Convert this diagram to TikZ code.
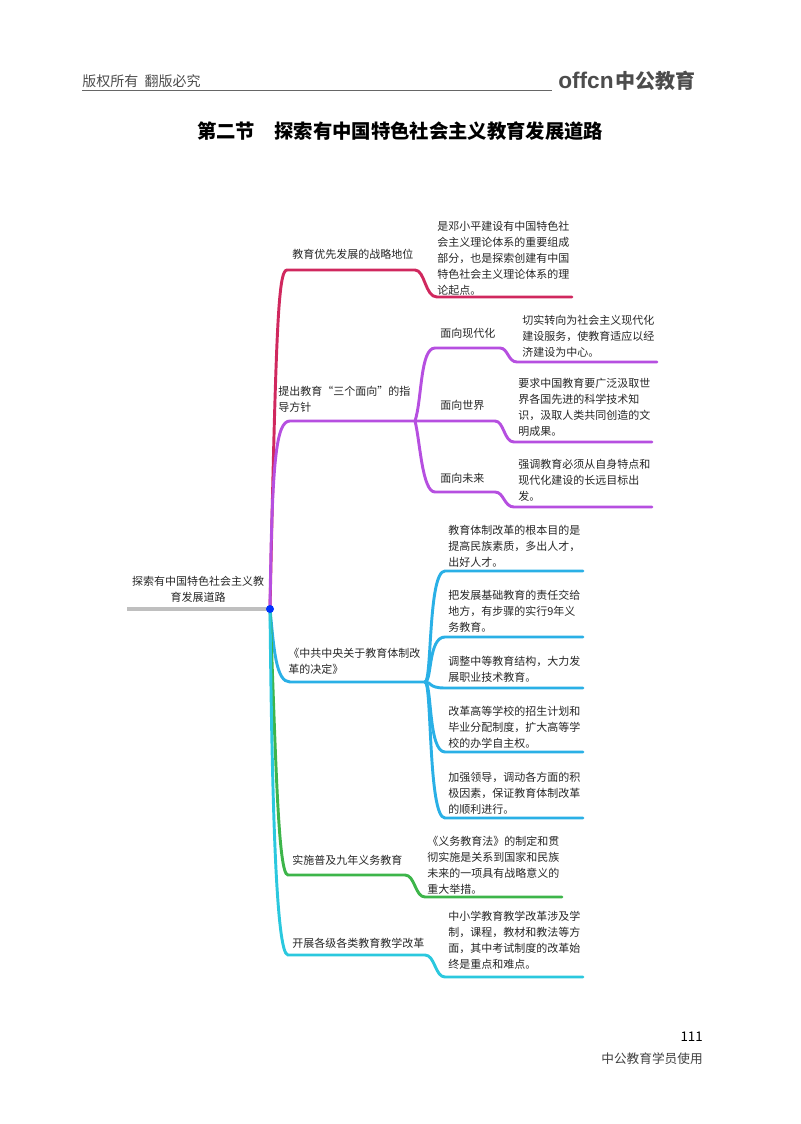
\documentclass[tikz,border=0pt]{standalone}
\usepackage{fontspec}
\setmainfont{Noto Sans CJK SC}
\newfontfamily\logofont{Liberation Sans}
\begin{document}
\begin{tikzpicture}[x=0.75pt,y=-0.75pt,
  txt/.style={anchor=north west,inner sep=0pt,align=left,font=\fontsize{8.25}{12}\selectfont,text=black!85},
  br/.style={line width=2.2pt,line cap=round}]
\useasboundingbox (0,0) rectangle (800,1124);
\definecolor{cred}{HTML}{D0285E}
\definecolor{cpur}{HTML}{B64FE0}
\definecolor{cblu}{HTML}{2AB0E6}
\definecolor{cgrn}{HTML}{3DB54A}
\definecolor{ccya}{HTML}{2BC8DE}
% header
\node[anchor=south west,inner sep=0pt,font=\fontsize{10.5}{12}\selectfont,text=black!70] (hdr) at (82,88) {版权所有\ \ 翻版必究};
\coordinate (hl1) at (82,90); \coordinate (hl2) at (552,90);
\draw[black!60,line width=0.6pt] (hl1) -- (hl2);
\node[anchor=south west,inner sep=0pt,text=black!70] (logo) at (558,91) {{\logofont\bfseries\fontsize{17}{18}\selectfont offcn}\,{\bfseries\fontsize{15}{18}\selectfont 中公教育}};
\node[inner sep=0pt,font=\bfseries\fontsize{14.5}{16}\selectfont] (title) at (400,131) {第二节\quad 探索有中国特色社会主义教育发展道路};
% root
\coordinate (r0) at (127,609);
\coordinate (dc) at (270,609);
\draw[line width=2.5pt,black!25] (r0) -- (dc);
\node[txt,align=center,anchor=south] (root) at (198,603) {探索有中国特色社会主义教\\育发展道路};
% branch 1
\coordinate (a1) at (287,270); \coordinate (a2) at (415,270); \coordinate (a3) at (437,297); \coordinate (a4) at (572,297);
\draw[br,cred] (dc) .. controls (276,330) and (278,270) .. (a1) -- (a2) .. controls (425,270) and (425,297) .. (a3) -- (a4);
\node[txt] (l1) at (292,249) {教育优先发展的战略地位};
\node[txt] (d1) at (437,221) {是邓小平建设有中国特色社\\会主义理论体系的重要组成\\部分，也是探索创建有中国\\特色社会主义理论体系的理\\论起点。};
% branch 2
\coordinate (b1) at (290,421); \coordinate (bf) at (415,421);
\draw[br,cpur] (dc) .. controls (272,460) and (276,421) .. (b1) -- (bf);
\node[txt] (l2) at (278,386) {提出教育“三个面向”的指\\导方针};
\coordinate (p1) at (435,348); \coordinate (p2) at (500,348); \coordinate (p3) at (517,362); \coordinate (p4) at (657,362);
\draw[br,cpur] (bf) .. controls (422,400) and (420,348) .. (p1) -- (p2) .. controls (508,348) and (508,362) .. (p3) -- (p4);
\node[txt] (s1) at (440,328) {面向现代化};
\node[txt] (t1) at (522,315) {切实转向为社会主义现代化\\建设服务，使教育适应以经\\济建设为中心。};
\coordinate (q2) at (495,421); \coordinate (q3) at (514,442); \coordinate (q4) at (652,442);
\draw[br,cpur] (bf) -- (q2) .. controls (504,421) and (504,442) .. (q3) -- (q4);
\node[txt] (s2) at (440,400) {面向世界};
\node[txt] (t2) at (518,378) {要求中国教育要广泛汲取世\\界各国先进的科学技术知\\识，汲取人类共同创造的文\\明成果。};
\coordinate (u1) at (435,492); \coordinate (u2) at (495,492); \coordinate (u3) at (514,507); \coordinate (u4) at (652,507);
\draw[br,cpur] (bf) .. controls (420,440) and (422,492) .. (u1) -- (u2) .. controls (504,492) and (504,507) .. (u3) -- (u4);
\node[txt] (s3) at (440,473) {面向未来};
\node[txt] (t3) at (518,459) {强调教育必须从自身特点和\\现代化建设的长远目标出\\发。};
% branch 3
\coordinate (c1) at (290,682); \coordinate (cf) at (425,682);
\draw[br,cblu] (dc) .. controls (274,650) and (276,682) .. (c1) -- (cf);
\node[txt] (l3) at (288,648) {《中共中央关于教育体制改\\革的决定》};
\foreach \y/\n in {571/1,637/2,688/3,752/4,818/5}{
  \coordinate (e\n) at (445,\y); \coordinate (f\n) at (583,\y);
  \draw[br,cblu] (cf) .. controls (432,682) and (428,\y) .. (e\n) -- (f\n);
}
\node[txt] (k1) at (448,525) {教育体制改革的根本目的是\\提高民族素质，多出人才，\\出好人才。};
\node[txt] (k2) at (448,590) {把发展基础教育的责任交给\\地方，有步骤的实行9年义\\务教育。};
\node[txt] (k3) at (448,656) {调整中等教育结构，大力发\\展职业技术教育。};
\node[txt] (k4) at (448,706) {改革高等学校的招生计划和\\毕业分配制度，扩大高等学\\校的办学自主权。};
\node[txt] (k5) at (448,772) {加强领导，调动各方面的积\\极因素，保证教育体制改革\\的顺利进行。};
% branch 4
\coordinate (g1) at (288,875); \coordinate (g2) at (405,875); \coordinate (g3) at (425,897); \coordinate (g4) at (562,897);
\draw[br,cgrn] (dc) .. controls (276,760) and (278,875) .. (g1) -- (g2) .. controls (415,875) and (415,897) .. (g3) -- (g4);
\node[txt] (l4) at (292,855) {实施普及九年义务教育};
\node[txt] (d4) at (427,836) {《义务教育法》的制定和贯\\彻实施是关系到国家和民族\\未来的一项具有战略意义的\\重大举措。};
% branch 5
\coordinate (h1) at (288,955); \coordinate (h2) at (425,955); \coordinate (h3) at (445,977); \coordinate (h4) at (583,977);
\draw[br,ccya] (dc) .. controls (272,800) and (276,955) .. (h1) -- (h2) .. controls (435,955) and (435,977) .. (h3) -- (h4);
\node[txt] (l5) at (292,938) {开展各级各类教育教学改革};
\node[txt] (d5) at (448,911) {中小学教育教学改革涉及学\\制，课程，教材和教法等方\\面，其中考试制度的改革始\\终是重点和难点。};
\node[fill=blue!80!cyan,circle,inner sep=0pt,minimum size=6pt] (dot) at (dc) {};
% footer
\node[anchor=east,inner sep=0pt,font=\fontsize{10}{12}\selectfont] (pg) at (703,1037) {111};
\node[anchor=east,inner sep=0pt,font=\fontsize{9.5}{12}\selectfont,text=black!75] (ft) at (703,1059) {中公教育学员使用};
\end{tikzpicture}
\end{document}
